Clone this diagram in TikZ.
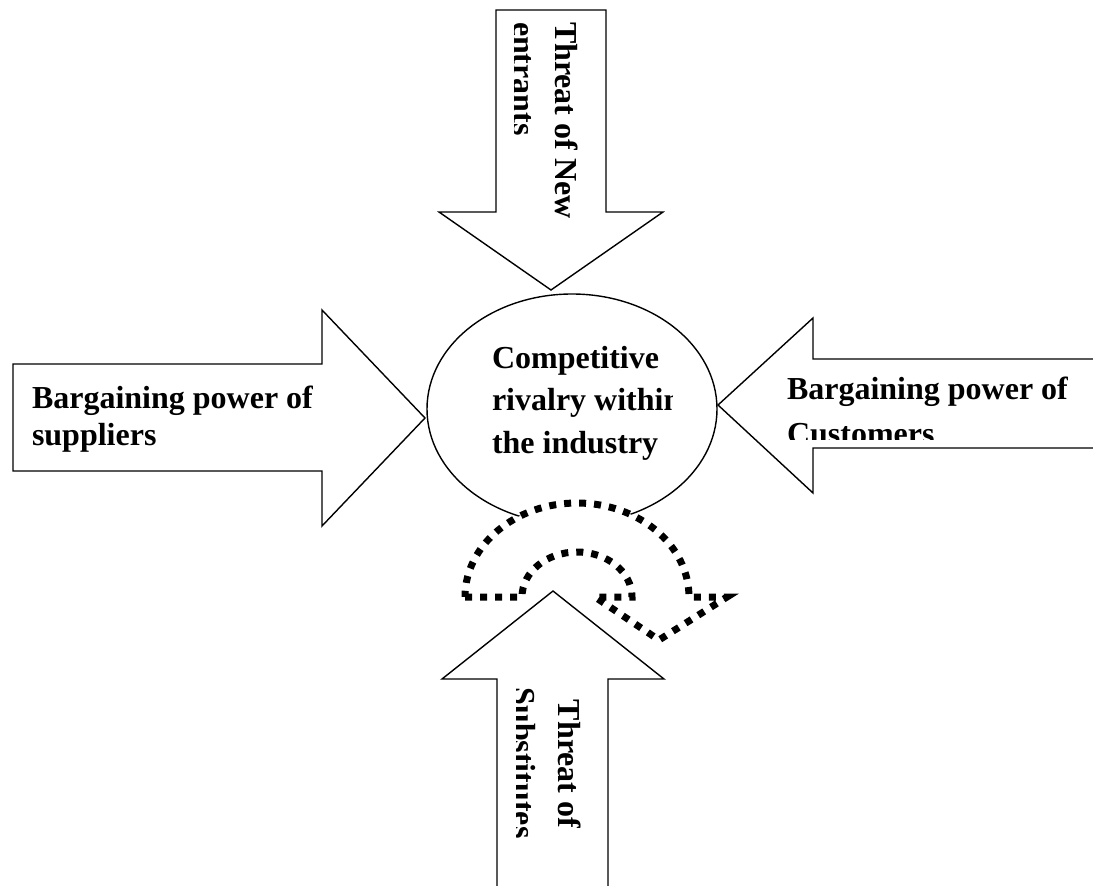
\documentclass[tikz,border=0pt]{standalone}
\usepackage{fontspec}
\setmainfont{Liberation Serif}
\usetikzlibrary{shapes.geometric}
\begin{document}
\begin{tikzpicture}[x=1pt,y=-1pt,
  blockarrow/.style={draw=black, fill=white, line width=1.4pt, line join=miter},
  lbl/.style={font=\fontsize{32}{38}\selectfont\bfseries, inner sep=0pt, outer sep=0pt},
  vlbl/.style={lbl, rotate=-90},
  curvedash/.style={draw=black, fill=white, line width=7pt, dash pattern=on 7pt off 8pt}]
\useasboundingbox (0,0) rectangle (1093,886);

% left arrow (suppliers)
\draw[blockarrow] (13,364) -- (322,364) -- (322,310) -- (425,418) -- (322,526) -- (322,471) -- (13,471) -- cycle;
% right arrow (customers)
\draw[blockarrow] (1093,359) -- (813,359) -- (813,318) -- (718,405) -- (813,493) -- (813,448) -- (1093,448);
% top arrow (new entrants)
\draw[blockarrow] (496,10) -- (606,10) -- (606,212) -- (663,212) -- (551,290) -- (439,212) -- (496,212) -- cycle;
% bottom arrow (substitutes)
\draw[blockarrow] (497,887) -- (497,679) -- (442,679) -- (553,591) -- (664,679) -- (608,679) -- (608,887);

% central ellipse
\node[draw=black, ellipse, line width=1.4pt, minimum width=290pt, minimum height=230pt, inner sep=0pt] (rivalry) at (572,409) {};

% curved dotted arrow
\draw[curvedash] (465,597) -- (522,597)
  arc[start angle=180, end angle=360, x radius=55, y radius=45]
  -- (595,597) -- (659,640) -- (727,597) -- (689,597)
  arc[start angle=0, end angle=-180, x radius=112, y radius=94] -- cycle;

% labels
\node[lbl, anchor=base west] (sup1) at (32,408) {Bargaining power of};
\node[lbl, anchor=base west] (sup2) at (32,445) {suppliers};

\begin{scope}
\clip (480,330) rectangle (672,480);
\node[lbl, anchor=base west] (riv1) at (492,368) {Competitive};
\node[lbl, anchor=base west] (riv2) at (492,410) {rivalry within};
\node[lbl, anchor=base west] (riv3) at (492,453) {the industry};
\end{scope}

\begin{scope}
\clip (780,360) rectangle (1093,439);
\node[lbl, anchor=base west] (cus1) at (787,399) {Bargaining power of};
\node[lbl, anchor=base west] (cus2) at (787,444) {Customers};
\end{scope}

\begin{scope}
\clip (514.5,12) rectangle (605,240);
\node[vlbl, anchor=base west] (new1) at (555,22) {Threat of New};
\node[vlbl, anchor=base west] (new2) at (513,22) {entrants};
\end{scope}

\begin{scope}
\clip (516,680) rectangle (606,880);
\node[vlbl, anchor=base] (sub1) at (558,764) {Threat of};
\node[vlbl, anchor=base] (sub2) at (513,763) {Substitutes};
\end{scope}
\end{tikzpicture}
\end{document}
